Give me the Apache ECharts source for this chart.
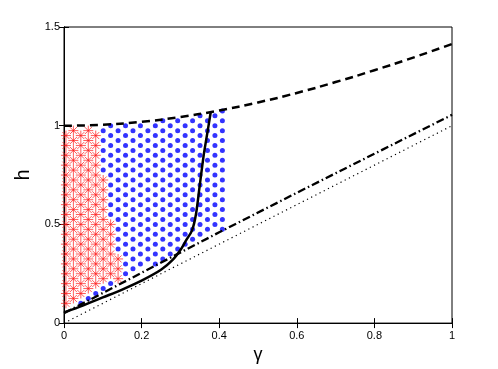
<!DOCTYPE html>
<html>
<head>
<meta charset="utf-8">
<script src="https://cdn.jsdelivr.net/npm/echarts@6/dist/echarts.min.js"></script>
<style>
  html, body { margin: 0; padding: 0; background: #fff; }
  #chart { width: 498px; height: 369px; }
</style>
</head>
<body>
<div id="chart"></div>
<script>
// upper dashed curve
var upperG = [0, 0.1, 0.2, 0.3, 0.4, 0.5, 0.6, 0.7, 0.8, 0.9, 1];
var upperH = [1, 1.005, 1.02, 1.044, 1.077, 1.118, 1.166, 1.221, 1.281, 1.345, 1.414];
// dash-dot line
var ddG = [0, 0.2, 0.4, 0.6, 0.8, 1];
var ddH = [0.05, 0.255, 0.46, 0.66, 0.858, 1.055];
// dotted diagonal
var diagG = [0, 1];
var diagH = [0, 1];
// solid curve
var solidG = [0, 0.05, 0.1, 0.15, 0.2, 0.25, 0.28, 0.3, 0.315, 0.33, 0.34, 0.35, 0.36, 0.37, 0.378];
var solidH = [0.054, 0.09, 0.13, 0.17, 0.215, 0.27, 0.32, 0.37, 0.42, 0.47, 0.55, 0.7, 0.85, 0.97, 1.067];
// right edge of the red region (by h)
var redEdgeH = [0, 0.3, 0.45, 0.55, 0.7, 0.75, 1.0];
var redEdgeG = [0.145, 0.145, 0.13, 0.115, 0.11, 0.10, 0.10];
var blueMaxG = 0.41;

var xTicks = ['0', '0.2', '0.4', '0.6', '0.8', '1'];
var yTicks = ['0', '0.5', '1', '1.5'];

function pairs(xs, ys) {
    return xs.map(function (x, i) { return [x, ys[i]]; });
}
// linear lookup on a read-off boundary
function lookup(xs, ys, x) {
    for (var i = 1; i < xs.length; i++) {
        if (x <= xs[i]) {
            var t = (x - xs[i - 1]) / (xs[i] - xs[i - 1]);
            return ys[i - 1] + t * (ys[i] - ys[i - 1]);
        }
    }
    return ys[ys.length - 1];
}

// hex lattice fill of the two regions
var dx = 0.0192, dy = 0.05, g0 = 0.005;
var bluePts = [], redPts = [];
for (var i = 0; g0 + i * dx <= blueMaxG + 0.001; i++) {
    var g = g0 + i * dx;
    var lo = lookup(ddG, ddH, g);
    var hi = lookup(upperG, upperH, g);
    for (var j = 0; j < 40; j++) {
        var h = j * dy + (i % 2 ? dy / 2 : 0);
        if (h < lo + 0.005 || h > hi - 0.005) continue;
        var isRed = h <= 1.0 && h >= lo + 0.03 && g <= lookup(redEdgeH, redEdgeG, h);
        if (isRed) redPts.push([g, h]);
        else bluePts.push([g, h]);
    }
}

var star = 'path://M0,-5L0,5M-5,0L5,0M-3.5,-3.5L3.5,3.5M-3.5,3.5L3.5,-3.5';
var font = 'Liberation Sans, Arial, sans-serif';

var option = {
    animation: false,
    grid: { left: 64, right: 46, top: 27, bottom: 45, show: true, borderColor: '#000', borderWidth: 1 },
    xAxis: [
        {
            type: 'value', min: 0, max: 1, interval: 0.2,
            name: 'γ', nameLocation: 'middle', nameGap: 22,
            nameTextStyle: { fontSize: 18, color: '#000', fontFamily: font },
            axisLine: { lineStyle: { color: '#000' } },
            axisTick: { inside: true, length: 5, lineStyle: { color: '#000' } },
            axisLabel: { color: '#000', fontSize: 11, fontFamily: font, margin: 7,
                formatter: function (v) { return xTicks[Math.round(v / 0.2)]; } },
            splitLine: { show: false }
        },
        {
            type: 'value', min: 0, max: 1, interval: 0.2, position: 'top',
            axisLine: { lineStyle: { color: '#000' } },
            axisTick: { inside: true, length: 5, lineStyle: { color: '#000' } },
            axisLabel: { show: false }, splitLine: { show: false }
        }
    ],
    yAxis: [
        {
            type: 'value', min: 0, max: 1.5, interval: 0.5,
            name: 'h', nameLocation: 'middle', nameGap: 31,
            nameTextStyle: { fontSize: 20, color: '#000', fontFamily: font },
            axisLine: { lineStyle: { color: '#000' } },
            axisTick: { inside: true, length: 5, lineStyle: { color: '#000' } },
            axisLabel: { color: '#000', fontSize: 11, fontFamily: font, margin: 4,
                formatter: function (v) { return yTicks[Math.round(v / 0.5)]; } },
            splitLine: { show: false }
        },
        {
            type: 'value', min: 0, max: 1.5, interval: 0.5, position: 'right',
            axisLine: { lineStyle: { color: '#000' } },
            axisTick: { inside: true, length: 5, lineStyle: { color: '#000' } },
            axisLabel: { show: false }, splitLine: { show: false }
        }
    ],
    series: [
        {
            type: 'scatter', data: bluePts, symbol: 'circle', symbolSize: 5,
            itemStyle: { color: '#0000ff' }, z: 2
        },
        {
            type: 'scatter', data: redPts, symbol: star, symbolSize: 10,
            itemStyle: { color: 'none', borderColor: '#ff1a1a', borderWidth: 0.9 }, z: 3
        },
        {
            type: 'line', data: pairs(diagG, diagH), symbol: 'none', z: 4,
            lineStyle: { color: '#000', width: 1.2, type: [1.2, 3.5] }
        },
        {
            type: 'line', data: pairs(ddG, ddH), symbol: 'none', z: 4,
            lineStyle: { color: '#000', width: 2.3, type: [8, 3, 1.5, 3] }
        },
        {
            type: 'line', data: pairs(upperG, upperH), symbol: 'none', smooth: true, z: 4,
            lineStyle: { color: '#000', width: 2.5, type: [8, 5] }
        },
        {
            type: 'line', data: pairs(solidG, solidH), symbol: 'none', smooth: 0.3, z: 5,
            lineStyle: { color: '#000', width: 2.5 }
        }
    ]
};

var chart = echarts.init(document.getElementById('chart'));
chart.setOption(option);
window.onresize = function () {
    chart.resize();
};
</script>
</body>
</html>
